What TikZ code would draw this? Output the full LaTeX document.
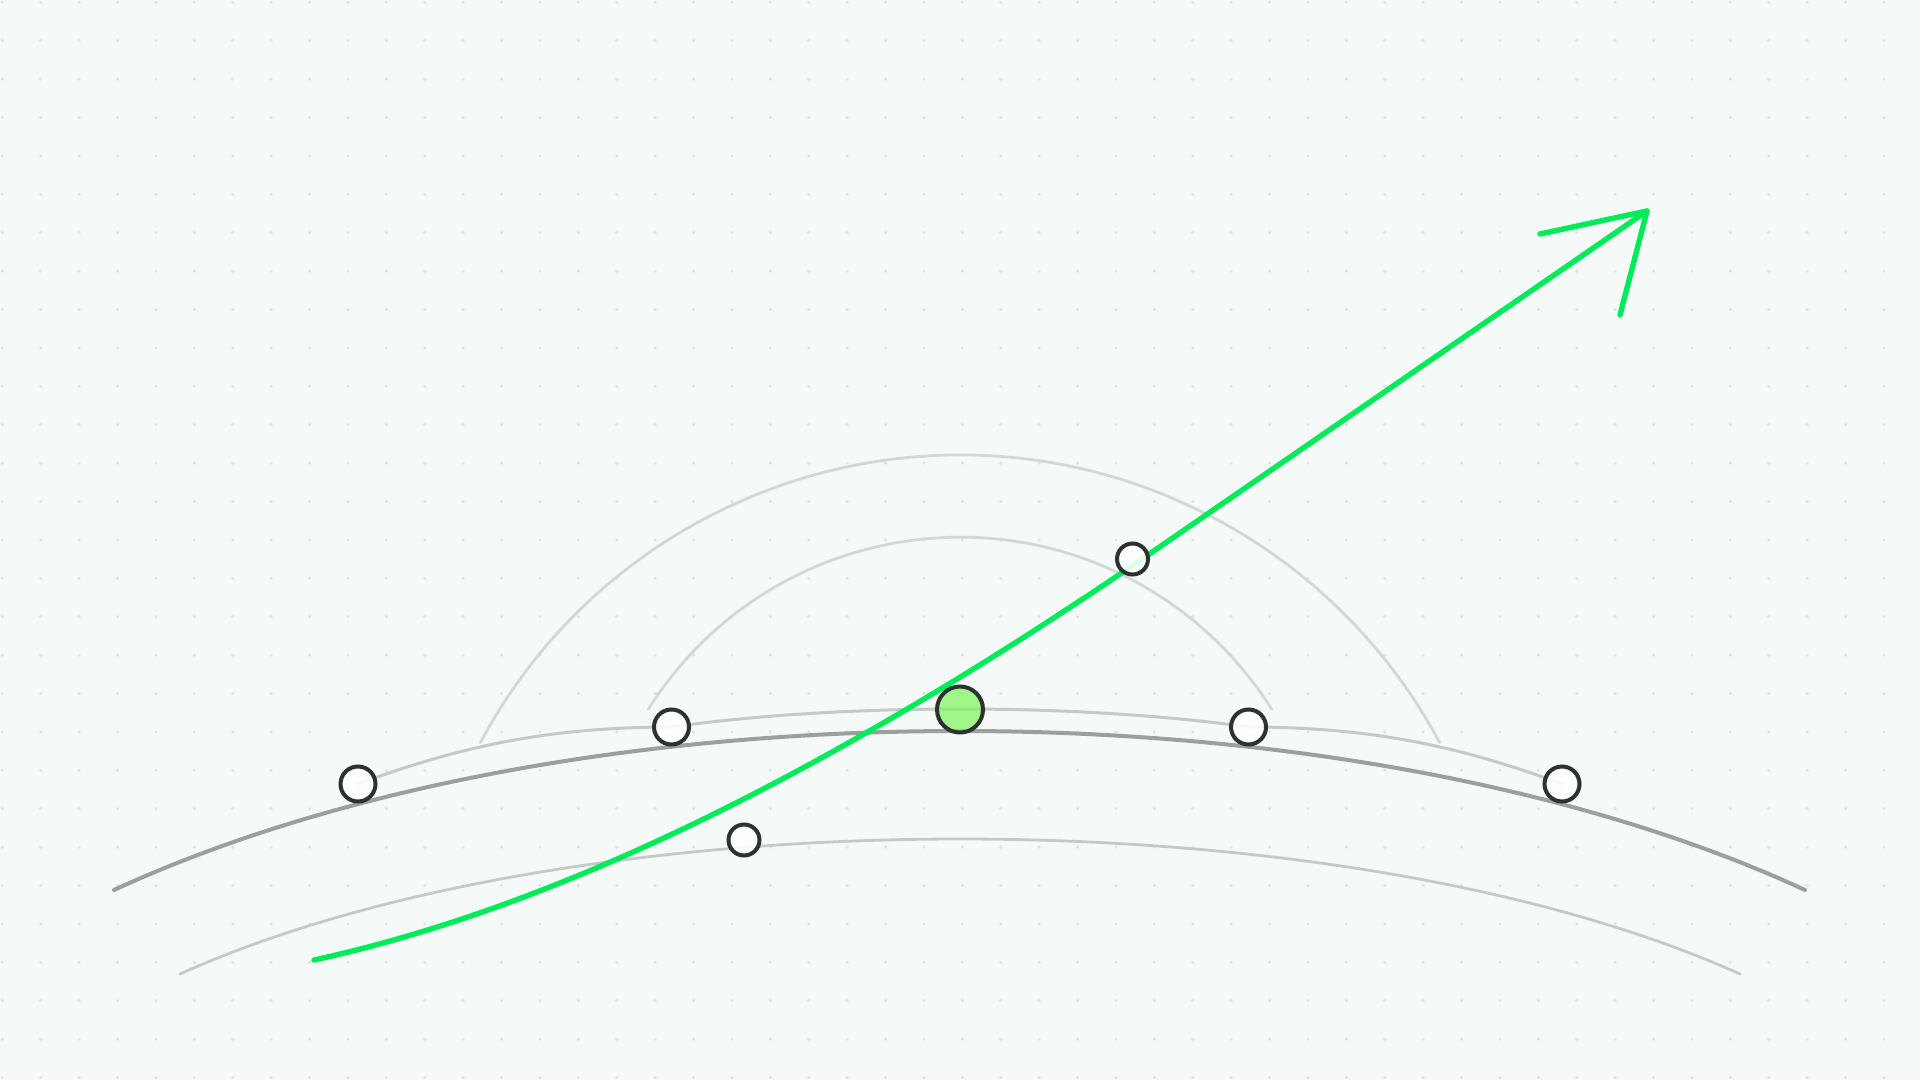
\documentclass[tikz,border=0pt]{standalone}
\usepackage{tikz}
\usetikzlibrary{calc}
\definecolor{paper}{RGB}{245,249,248}
\definecolor{speck}{RGB}{222,226,226}
\definecolor{ink}{RGB}{45,49,48}
\definecolor{shade}{RGB}{155,159,158}
\definecolor{mist}{RGB}{198,201,201}
\definecolor{haze}{RGB}{212,215,215}
\definecolor{glow}{RGB}{0,235,90}
\definecolor{leaf}{RGB}{126,245,90}
\tikzset{
	ring/.style={circle, draw=ink, line width=2pt, fill=white, fill opacity=0.88, inner sep=0pt, minimum size=17.5pt},
	smallring/.style={ring, minimum size=15.5pt},
	bigring/.style={ring, fill=leaf, fill opacity=0.7, minimum size=23pt},
	track/.style={line width=#1, line cap=round},
	track/.default=1.5pt
}

\begin{document}
\begin{tikzpicture}[x=0.5pt, y=-0.5pt]
		%%%%% PAPER %%%%%
		
		\fill[paper] (0,0) rectangle (1920,1080);
		\useasboundingbox (0,0) rectangle (1920,1080);
		\foreach \i in {0,...,49}
			\foreach \j in {0,...,28}
				\fill[speck] ({2.3+38.4*\i},{2.3+38.4*\j}) circle[radius=1.7];
		
		%%%%% POINTS %%%%%
		
		\coordinate (l2) at (358,784);
		\coordinate (l1) at (671.5,727);
		\coordinate (r1) at (1248.5,727);
		\coordinate (r2) at (1562,784);
		\coordinate (mid) at (960,709.5);
		\coordinate (top) at (1132.5,559);
		\coordinate (low) at (744,840);
		
		%%%%% ARCS %%%%%
		
		\draw[track=1.4pt, color=haze] (480.3,742.7) arc[start angle=208.1, end angle=331.9, radius=543.8];
		\draw[track=1.4pt, color=haze] (648.3,709.3) arc[start angle=212.2, end angle=327.8, radius=368.4];
		\draw[track=1.4pt, color=mist] (180,974) .. controls (580,794) and (1340,794) .. (1740,974);
		\draw[track=2pt, color=shade] (114,890) .. controls (574,678) and (1346,678) .. (1805,890);
		\draw[track=1.5pt, color=mist] (l2) .. controls (450,750) and (540,727) .. (l1)
			.. controls (842,703) and (1077,703) .. (r1)
			.. controls (1380,727) and (1470,750) .. (r2);
		
		%%%%% ARROW %%%%%
		
		\coordinate (tail) at (314,960);
		\coordinate (bend) at (1132,566);
		\coordinate (tip) at (1647,211);
		\coordinate (wa) at (1540,234);
		\coordinate (wb) at (1620,315);
		\draw[track=2.7pt, color=glow] (tail) .. controls (584,901) and (862,749) .. (bend) -- (tip);
		\draw[track=2.7pt, color=glow, line join=round] (wa) -- (tip) -- (wb);
		
		%%%%% RINGS %%%%%
		
		\node[ring] (nl2) at (l2) {};
		\node[ring] (nl1) at (l1) {};
		\node[ring] (nr1) at (r1) {};
		\node[ring] (nr2) at (r2) {};
		\node[smallring] (ntop) at (top) {};
		\node[smallring] (nlow) at (low) {};
		\node[bigring] (nmid) at (mid) {};
		
		%%%%% END %%%%%
	\end{tikzpicture}
\end{document}
